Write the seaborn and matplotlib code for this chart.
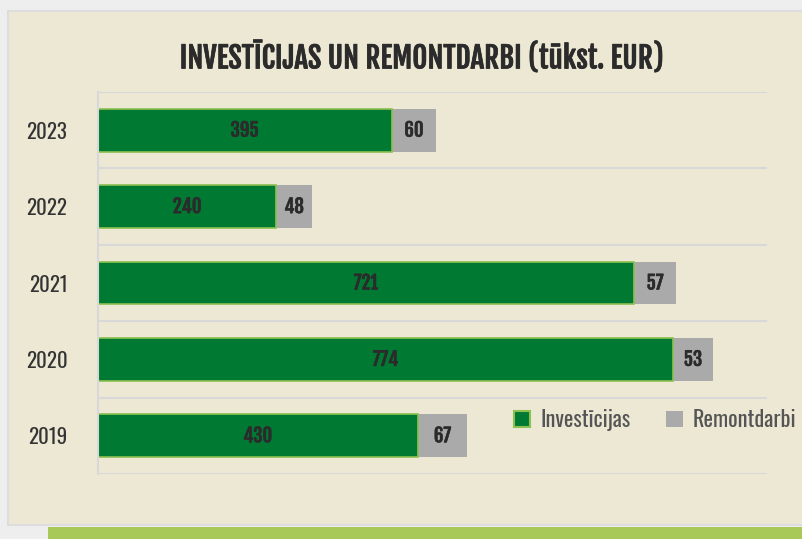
import seaborn as sns
import matplotlib.pyplot as plt
import matplotlib.patches as mpatches
import matplotlib.patheffects as pe
import pandas as pd

years = ['2023', '2022', '2021', '2020', '2019']
investicijas = [395, 240, 721, 774, 430]
remontdarbi = [60, 48, 57, 53, 67]

df = pd.DataFrame({'year': years, 'inv': investicijas, 'rem': remontdarbi})
df['total'] = df['inv'] + df['rem']

sns.set_style("white")
plt.rcParams['font.family'] = ['Oswald', 'DejaVu Sans']
heavy = ['Fjalla One', 'Oswald', 'DejaVu Sans']

green = '#007a33'
green_edge = '#8dc051'
grey = '#aaaaaa'
panel = '#ece8d4'
ink = '#2b2b2b'

fig = plt.figure(figsize=(8.03, 5.39), dpi=100)
fig.patch.set_facecolor('#eeeeee')
# beige panel and green strip under it
fig.patches.append(mpatches.Rectangle((8/803, 1-525/539), 1, (525-11)/539, transform=fig.transFigure,
                                      facecolor=panel, edgecolor='#dddddd', lw=1.5, zorder=-5))
fig.patches.append(mpatches.Rectangle((48/803, 0), 1, 12/539, transform=fig.transFigure,
                                      facecolor='#a8c858', edgecolor='none', zorder=-5))

ax = fig.add_axes([98/803, 1-474/539, (767-98)/803, (474-92)/539])
ax.set_facecolor(panel)

sns.barplot(data=df, x='total', y='year', order=years, color=grey, width=0.56,
            edgecolor='none', saturation=1, ax=ax)
sns.barplot(data=df, x='inv', y='year', order=years, color=green, width=0.56,
            edgecolor=green_edge, linewidth=1.2, saturation=1, ax=ax)

ax.set_xlim(0, 900)
ax.set_ylim(len(years) - 0.5, -0.5)
ax.set_xlabel('')
ax.set_ylabel('')
ax.set_xticks([])
for b in [i - 0.5 for i in range(len(years) + 1)]:
    ax.axhline(b, color='#d8d8d8', lw=1.5, zorder=0)
for s in ['top', 'right', 'bottom']:
    ax.spines[s].set_visible(False)
ax.spines['left'].set_color('#d8d8d8')
ax.spines['left'].set_linewidth(1.5)

ax.set_yticks(range(len(years)))
ax.set_yticklabels(years, fontsize=15, color='#333333')
ax.tick_params(axis='y', length=0, pad=22)

bold_fx = [pe.withStroke(linewidth=0.4, foreground=ink)]
for i, (inv, rem) in enumerate(zip(investicijas, remontdarbi)):
    ax.text(inv / 2, i, str(inv), ha='center', va='center', fontsize=13.5,
            family=heavy, color=ink, path_effects=bold_fx)
    ax.text(inv + rem / 2, i, str(rem), ha='center', va='center', fontsize=13.5,
            family=heavy, color=ink, path_effects=bold_fx)

fig.text(421/803, 1-58/539, 'INVESTĪCIJAS UN REMONTDARBI (tūkst. EUR)',
         ha='center', va='center', fontsize=21, family=heavy, color=ink,
         path_effects=[pe.withStroke(linewidth=0.5, foreground=ink)])

handles = [mpatches.Patch(facecolor=green, edgecolor=green_edge, lw=1.5, label='Investīcijas'),
           mpatches.Patch(facecolor=grey, edgecolor='none', label='Remontdarbi')]
fig.legend(handles=handles, loc='center', bbox_to_anchor=(655/803, 1-420/539), ncol=2,
           frameon=False, fontsize=16, labelcolor='#555555', handlelength=0.75, handleheight=0.75,
           handletextpad=0.45, columnspacing=1.6)

plt.savefig('out.png', dpi=100, facecolor=fig.get_facecolor())
